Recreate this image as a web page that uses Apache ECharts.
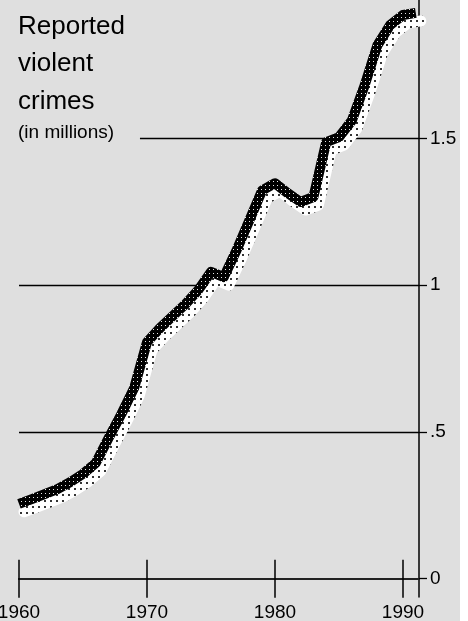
<!DOCTYPE html>
<html>
<head>
<meta charset="utf-8">
<script src="https://cdn.jsdelivr.net/npm/echarts@6/dist/echarts.min.js"></script>
<style>
  html, body { margin: 0; padding: 0; background: #ffffff; }
  #chart { width: 460px; height: 621px; background: #dfdfdf; }
</style>
</head>
<body>
<div id="chart"></div>
<script>
// ---- data ----
const years = [1960, 1961, 1962, 1963, 1964, 1965, 1966, 1967, 1968, 1969,
               1970, 1971, 1972, 1973, 1974, 1975, 1976, 1977, 1978, 1979,
               1980, 1981, 1982, 1983, 1984, 1985, 1986, 1987, 1988, 1989,
               1990, 1991];
const crimes = [0.255, 0.271, 0.288, 0.305, 0.329, 0.357, 0.394, 0.479, 0.561, 0.650,
                0.806, 0.853, 0.894, 0.935, 0.983, 1.045, 1.027, 1.119, 1.221, 1.323,
                1.347, 1.313, 1.283, 1.300, 1.487, 1.504, 1.560, 1.680, 1.817, 1.886,
                1.920, 1.927];
const xTickValues = [1960, 1970, 1980, 1990];
const yTickValues = [0, 0.5, 1, 1.5];
const yTickLabels = ['0', '.5', '1', '1.5'];
const titleLines = ['Reported', 'violent', 'crimes'];
const subtitle = '(in millions)';

// ---- rendering ----
const xMin = 1960, xMax = 1991.25;
const yMin = -0.0623, yMax = 1.971;
const narrow = '"Liberation Sans Narrow", "Arial Narrow", "Liberation Sans", Arial, sans-serif';

function makePattern(size, bg, dot, dotSize, dx, dy) {
  const c = document.createElement('canvas');
  c.width = size; c.height = size;
  const ctx = c.getContext('2d');
  ctx.fillStyle = bg; ctx.fillRect(0, 0, size, size);
  ctx.fillStyle = dot; ctx.fillRect(dx, dy, dotSize, dotSize);
  return c;
}
const blackPattern = makePattern(4, '#000000', '#e8e8e8', 1, 1, 1);
const whitePattern = makePattern(6, '#ffffff', '#333333', 2, 2, 2);

const points = years.map((y, i) => [y, crimes[i]]);

const gridLineData = [
  [{ coord: [1969.45, yTickValues[3]] }, { coord: [xMax, yTickValues[3]] }],
  [{ coord: [xMin, yTickValues[2]] }, { coord: [xMax, yTickValues[2]] }],
  [{ coord: [xMin, yTickValues[1]] }, { coord: [xMax, yTickValues[1]] }]
];

const axisLineStyle = { color: '#222', width: 2 };

const chart = echarts.init(document.getElementById('chart'), null, { renderer: 'canvas' });
chart.setOption({
  animation: false,
  backgroundColor: 'transparent',
  title: {
    left: 18, top: 8, padding: 0,
    text: titleLines.join('\n'),
    subtext: subtitle,
    itemGap: 2,
    textStyle: { fontSize: 26, lineHeight: 37.5, fontWeight: 'normal', color: '#000', fontFamily: '"Liberation Sans", Arial, sans-serif' },
    subtextStyle: { fontSize: 19, lineHeight: 20, color: '#000', fontFamily: '"Liberation Sans", Arial, sans-serif' }
  },
  grid: [
    { left: 19, right: 41, top: 0, bottom: 24, outerBoundsMode: 'none', containLabel: false },
    { left: 24, right: 36, top: 8, bottom: 16, outerBoundsMode: 'none', containLabel: false }
  ],
  xAxis: [
    {
      gridIndex: 0, type: 'value', min: xMin, max: xMax,
      axisLine: { show: true, onZero: true, onZeroAxisIndex: 0, lineStyle: axisLineStyle },
      axisTick: { show: true, inside: false, length: 19, customValues: xTickValues, lineStyle: { color: '#000', width: 1.5 } },
      axisLabel: { show: true, customValues: xTickValues, margin: 6, fontSize: 19, fontFamily: narrow, color: '#000', formatter: v => String(v) },
      splitLine: { show: false }
    },
    {
      gridIndex: 0, type: 'value', min: xMin, max: xMax, position: 'top',
      axisLine: { show: true, onZero: true, onZeroAxisIndex: 0, lineStyle: axisLineStyle },
      axisTick: { show: true, inside: false, length: 19, customValues: xTickValues, lineStyle: { color: '#000', width: 1.5 } },
      axisLabel: { show: false },
      splitLine: { show: false }
    },
    {
      gridIndex: 1, type: 'value', min: xMin, max: xMax, show: false,
      axisLine: { onZero: false }, splitLine: { show: false }
    }
  ],
  yAxis: [
    {
      gridIndex: 0, type: 'value', position: 'right', min: yMin, max: yMax,
      axisLine: { show: true, onZero: false, lineStyle: { color: '#000', width: 1.5 } },
      axisTick: { show: true, inside: false, length: 8, customValues: yTickValues, lineStyle: { color: '#000', width: 1.3 } },
      axisLabel: {
        show: true, customValues: yTickValues, margin: 11, fontSize: 19, fontFamily: narrow, color: '#000',
        formatter: v => { const i = yTickValues.findIndex(t => Math.abs(t - v) < 1e-9); return i >= 0 ? yTickLabels[i] : ''; }
      },
      splitLine: { show: false }
    },
    {
      gridIndex: 1, type: 'value', min: yMin, max: yMax, show: false,
      axisLine: { onZero: false }, splitLine: { show: false }
    }
  ],
  series: [
    {
      type: 'line', xAxisIndex: 0, yAxisIndex: 0, data: [], silent: true, z: 1,
      markLine: {
        z: 1, silent: true, symbol: ['none', 'none'], animation: false,
        label: { show: false },
        lineStyle: { color: '#000', width: 1.3, type: 'solid' },
        emphasis: { disabled: true },
        data: gridLineData
      }
    },
    {
      type: 'line', xAxisIndex: 2, yAxisIndex: 1, data: points, z: 3,
      symbol: 'none', silent: true, clip: false,
      lineStyle: { width: 11, color: { image: whitePattern, repeat: 'repeat' }, join: 'round', cap: 'round' }
    },
    {
      type: 'line', xAxisIndex: 0, yAxisIndex: 0, data: points, z: 4,
      symbol: 'none', silent: true, clip: false,
      lineStyle: { width: 10, color: { image: blackPattern, repeat: 'repeat' }, join: 'round', cap: 'butt' }
    }
  ]
});
</script>
</body>
</html>
